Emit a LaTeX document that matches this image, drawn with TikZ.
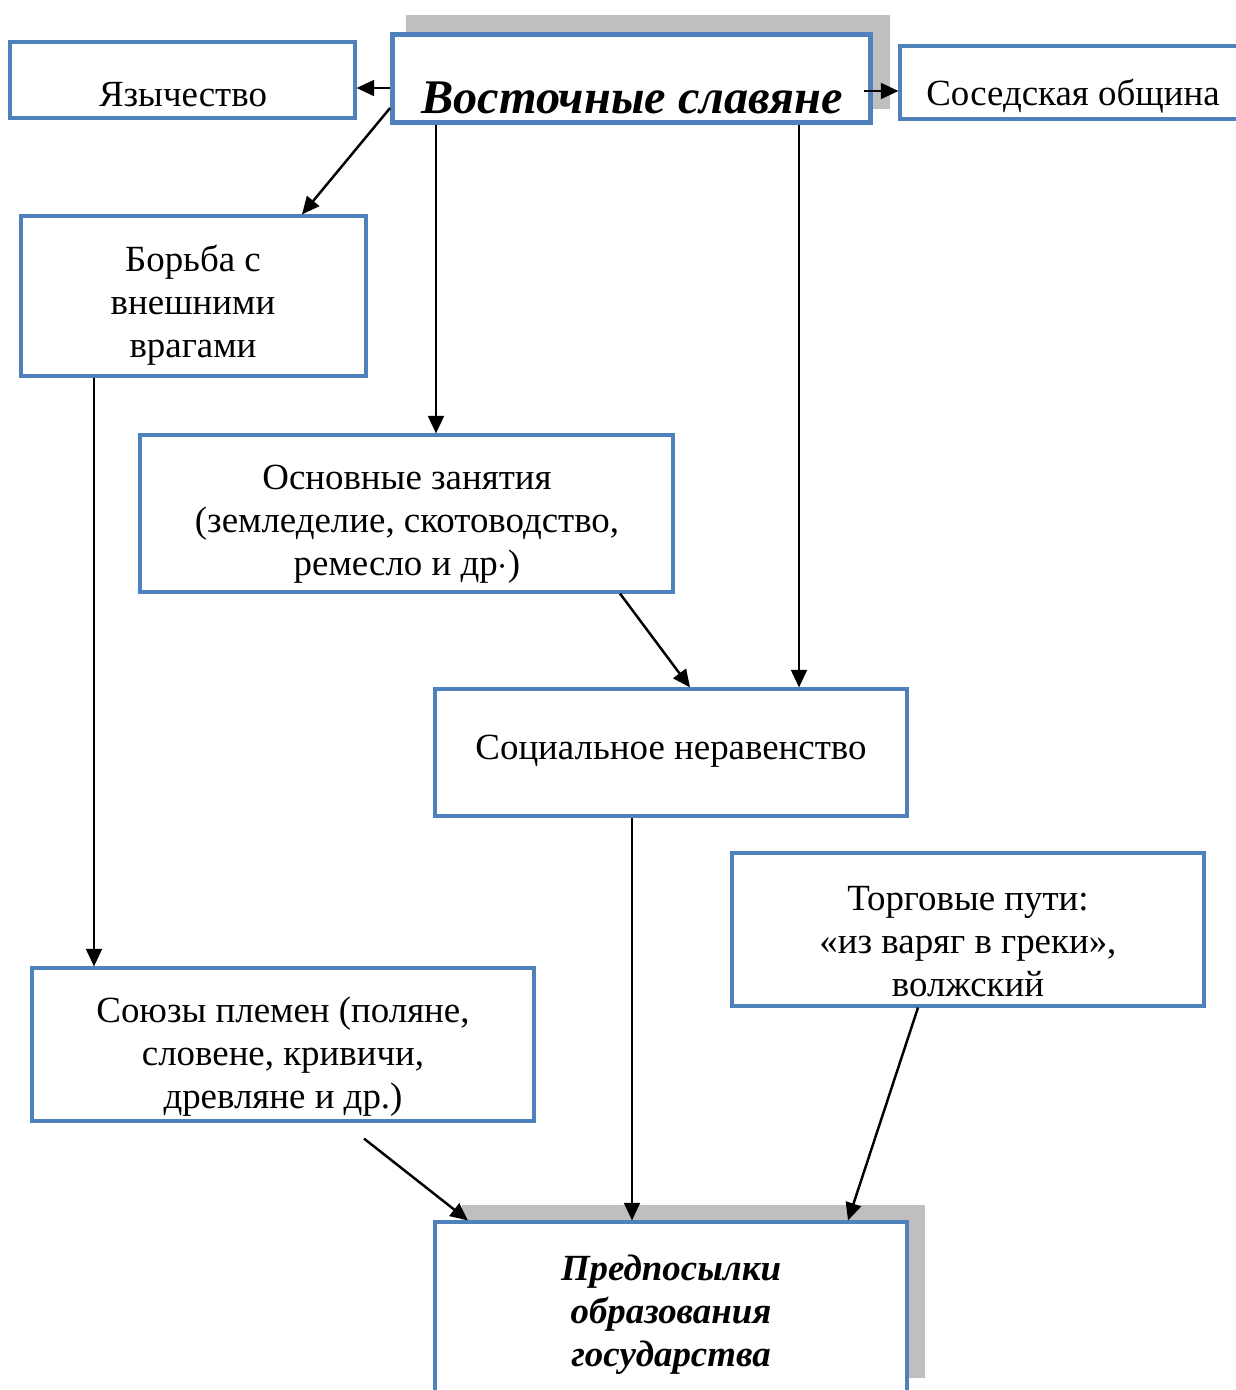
\documentclass[tikz,border=0pt]{standalone}
\usepackage{fontspec}
\setmainfont{Liberation Serif}
\usetikzlibrary{arrows.meta,calc}
\definecolor{boxblue}{HTML}{4F81BD}
\definecolor{shadowgray}{HTML}{BFBFBF}
\tikzset{
    box/.style={draw=boxblue, line width=1.8pt, fill=white, inner sep=0pt},
    txt/.style={align=center, inner sep=0pt, font=\fontsize{21}{24.5}\selectfont},
    bigtxt/.style={align=center, inner sep=0pt, font=\fontsize{21}{24.5}\selectfont\bfseries\itshape},
    arr/.style={-{Triangle[length=10pt,width=9pt]}, line width=1.4pt}
}

\begin{document}
\begin{tikzpicture}[x=0.02cm, y=-0.02cm]
    \useasboundingbox (0,0) rectangle (1235,1390);

    % Shadows (grey)
    \fill[shadowgray] (406,15) rectangle (890,109);
    \fill[shadowgray] (462,1205) rectangle (925,1378);

    % Boxes
    \node[box, line width=2.8pt, minimum width=9.56cm, minimum height=1.76cm] (vost) at (631.5,78.5) {};
    \node[box, minimum width=6.9cm, minimum height=1.52cm] (yaz) at (182.5,80) {};
    \node[box, minimum width=6.8cm, minimum height=1.46cm] (sos) at (1070,82.5) {};
    \node[box, minimum width=6.9cm, minimum height=3.2cm] (bor) at (193.5,296) {};
    \node[box, minimum width=10.66cm, minimum height=3.14cm] (osn) at (406.5,513.5) {};
    \node[box, minimum width=9.44cm, minimum height=2.54cm] (soc) at (671,752.5) {};
    \node[box, minimum width=9.44cm, minimum height=3.06cm] (torg) at (968,929.5) {};
    \node[box, minimum width=10.04cm, minimum height=3.06cm] (soyuz) at (283,1044.5) {};
    \node[box, minimum width=9.44cm, minimum height=3.52cm] (pred) at (671,1310) {};

    % Texts
    \node[bigtxt, font=\fontsize{27.5}{31}\selectfont\bfseries\itshape] (vost-t) at (632,98) {Восточные славяне};
    \node[txt] (yaz-t) at (183,95) {Язычество};
    \node[txt] (sos-t) at (1073,96) {Соседская община};
    \node[txt] (bor-t) at (193,305) {Борьба с\\внешними\\врагами};
    \node[txt] (osn-t) at (407,524) {Основные занятия\\(земледелие, скотоводство,\\ремесло и др$\cdot$)};
    \node[txt] (soc-t) at (671,751) {Социальное неравенство};
    \node[txt] (torg-t) at (968,942) {Торговые пути:\\«из варяг в греки»,\\волжский};
    \node[txt] (soyuz-t) at (283,1057) {Союзы племен (поляне,\\словене, кривичи,\\древляне и др.)};
    \node[bigtxt] (pred-t) at (671,1315) {Предпосылки\\образования\\государства};

    % Arrows
    \draw[arr] (vost.west |- 0,88) -- (yaz.east |- 0,88);
    \draw[arr] ($(vost.east |- 0,91)+(-9,0)$) -- (sos.west |- 0,91);
    \draw[arr] (vost.west |- 0,108) -- (bor.north -| 302,0);
    \draw[arr] (vost.south -| 436,0) -- (osn.north -| 436,0);
    \draw[arr] (vost.south -| 799,0) -- (soc.north -| 799,0);
    \draw[arr] (osn.south -| 620,0) -- (soc.north -| 690,0);
    \draw[arr] (bor.south -| 94,0) -- (soyuz.north -| 94,0);
    \draw[arr] (soc.south -| 632,0) -- (pred.north -| 632,0);
    \draw[arr] (torg.south -| 918,0) -- (pred.north -| 848,0);
    \draw[arr] ($(soyuz.south -| 364,0)+(0,16)$) -- (pred.north -| 468,0);
\end{tikzpicture}
\end{document}
